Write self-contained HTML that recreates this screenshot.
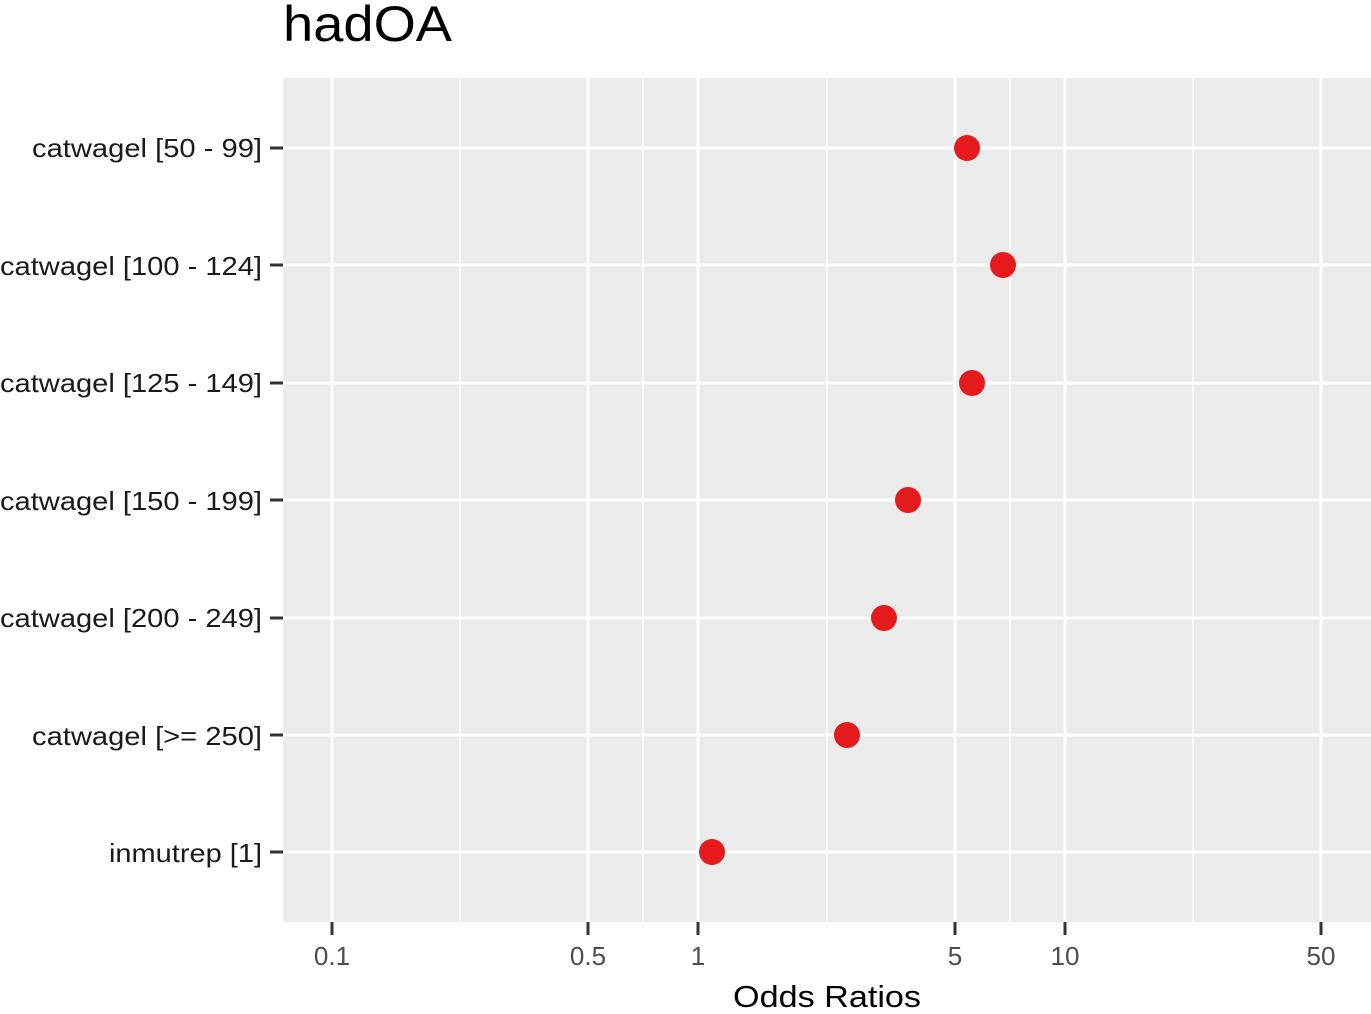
<!DOCTYPE html>
<html><head><meta charset="utf-8"><style>html,body{margin:0;padding:0;background:#fff}</style></head>
<body>
<svg width="1371" height="1009" xmlns="http://www.w3.org/2000/svg" font-family="Liberation Sans, Arial, sans-serif">
<rect x="283" y="78" width="1088" height="844" fill="#ebebeb"/>
<g stroke="#fff" stroke-width="1.5">
<line x1="460" y1="78" x2="460" y2="922"/><line x1="643" y1="78" x2="643" y2="922"/>
<line x1="827" y1="78" x2="827" y2="922"/><line x1="1010" y1="78" x2="1010" y2="922"/>
<line x1="1193" y1="78" x2="1193" y2="922"/>
</g>
<g stroke="#fff" stroke-width="3">
<line x1="332" y1="78" x2="332" y2="922"/><line x1="588" y1="78" x2="588" y2="922"/>
<line x1="698" y1="78" x2="698" y2="922"/><line x1="955" y1="78" x2="955" y2="922"/>
<line x1="1065" y1="78" x2="1065" y2="922"/><line x1="1321" y1="78" x2="1321" y2="922"/>
<line x1="283" y1="148" x2="1371" y2="148"/><line x1="283" y1="265" x2="1371" y2="265"/>
<line x1="283" y1="383" x2="1371" y2="383"/><line x1="283" y1="500" x2="1371" y2="500"/>
<line x1="283" y1="618" x2="1371" y2="618"/><line x1="283" y1="735" x2="1371" y2="735"/>
<line x1="283" y1="852" x2="1371" y2="852"/>
</g>
<g stroke="#333" stroke-width="3">
<line x1="270" y1="148" x2="283" y2="148"/><line x1="270" y1="265" x2="283" y2="265"/>
<line x1="270" y1="383" x2="283" y2="383"/><line x1="270" y1="500" x2="283" y2="500"/>
<line x1="270" y1="618" x2="283" y2="618"/><line x1="270" y1="735" x2="283" y2="735"/>
<line x1="270" y1="852" x2="283" y2="852"/>
<line x1="332" y1="922" x2="332" y2="935"/><line x1="588" y1="922" x2="588" y2="935"/>
<line x1="698" y1="922" x2="698" y2="935"/><line x1="955" y1="922" x2="955" y2="935"/>
<line x1="1065" y1="922" x2="1065" y2="935"/><line x1="1321" y1="922" x2="1321" y2="935"/>
</g>
<g fill="#e41a1c">
<circle cx="967" cy="148" r="13"/><circle cx="1003" cy="265" r="13"/>
<circle cx="972" cy="383" r="13"/><circle cx="908" cy="500" r="13"/>
<circle cx="884" cy="618" r="13"/><circle cx="847" cy="735" r="13"/>
<circle cx="712" cy="852" r="13"/>
</g>
<g font-size="26" fill="#1a1a1a" lengthAdjust="spacingAndGlyphs">
<text x="32" y="157" textLength="230" lengthAdjust="spacingAndGlyphs">catwagel [50 - 99]</text>
<text x="0" y="275" textLength="262" lengthAdjust="spacingAndGlyphs">catwagel [100 - 124]</text>
<text x="0" y="392" textLength="262" lengthAdjust="spacingAndGlyphs">catwagel [125 - 149]</text>
<text x="0" y="510" textLength="262" lengthAdjust="spacingAndGlyphs">catwagel [150 - 199]</text>
<text x="0" y="627" textLength="262" lengthAdjust="spacingAndGlyphs">catwagel [200 - 249]</text>
<text x="32" y="745" textLength="230" lengthAdjust="spacingAndGlyphs">catwagel [&gt;= 250]</text>
<text x="109" y="862" textLength="153" lengthAdjust="spacingAndGlyphs">inmutrep [1]</text>
</g>
<g font-size="26" fill="#4d4d4d" text-anchor="middle">
<text x="332" y="965">0.1</text><text x="588" y="965">0.5</text>
<text x="698" y="965">1</text><text x="955" y="965">5</text>
<text x="1065" y="965">10</text><text x="1321" y="965">50</text>
</g>
<text x="733" y="1007" font-size="31" textLength="188" lengthAdjust="spacingAndGlyphs" fill="#000">Odds Ratios</text>
<text x="283" y="41" font-size="50" textLength="169" lengthAdjust="spacingAndGlyphs" fill="#000">hadOA</text>
</svg>
</body></html>
